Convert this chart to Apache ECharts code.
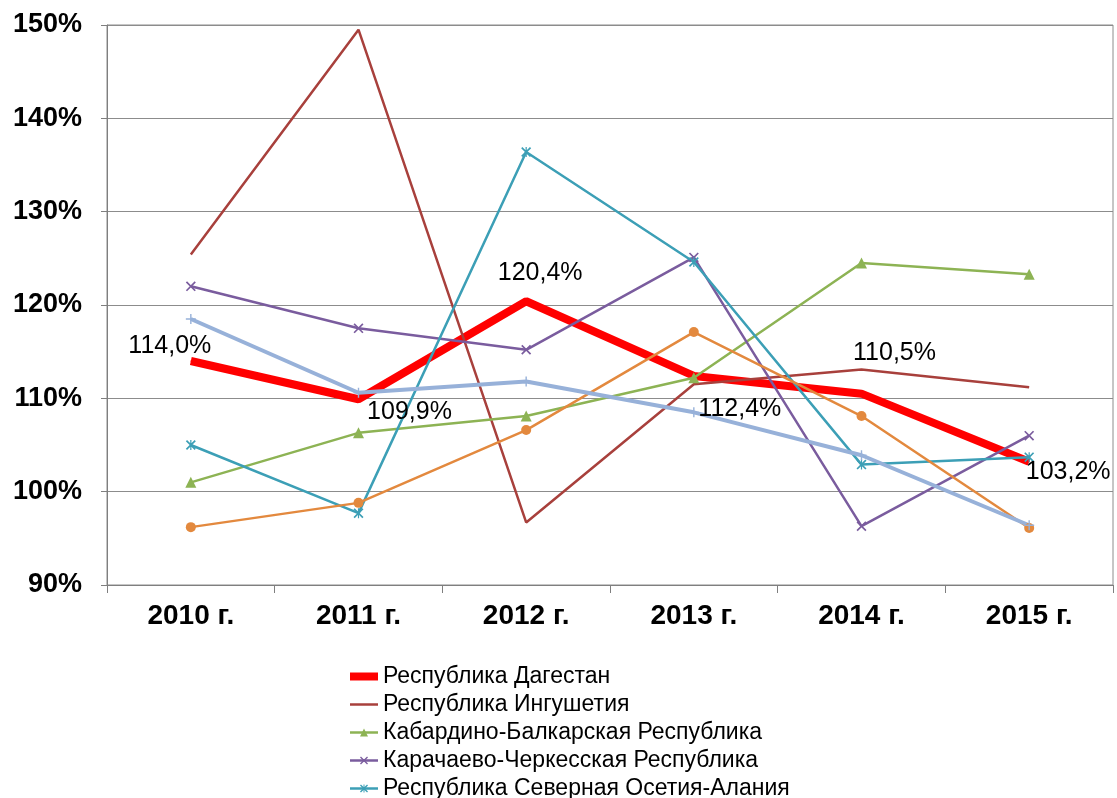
<!DOCTYPE html>
<html>
<head>
<meta charset="utf-8">
<script src="https://cdn.jsdelivr.net/npm/echarts@6/dist/echarts.min.js"></script>
<style>
  html, body { margin: 0; padding: 0; background: #fff; }
  #chart { width: 1117px; height: 798px; }
</style>
</head>
<body>
<div id="chart"></div>
<script>
const years = ['2010 г.', '2011 г.', '2012 г.', '2013 г.', '2014 г.', '2015 г.']
const yTicks = { min: 90, max: 150, step: 10 }

const dagestan = [114.0, 109.9, 120.4, 112.4, 110.5, 103.2]
const ingushetia = [125.4, 149.5, 96.7, 111.5, 113.1, 111.2]
const kbr = [101.0, 106.3, 108.1, 112.2, 124.5, 123.3]
const kchr = [122.0, 117.5, 115.2, 125.1, 96.3, 106.0]
const ossetia = [105.0, 97.7, 136.4, 124.6, 102.9, 103.7]
const chechnya = [96.2, 98.8, 106.6, 117.1, 108.1, 96.1]
const stavropol = [118.5, 110.6, 111.8, 108.5, 103.9, 96.4]

const names = [
  'Республика Дагестан',
  'Республика Ингушетия',
  'Кабардино-Балкарская Республика',
  'Карачаево-Черкесская Республика',
  'Республика Северная Осетия-Алания',
  'Чеченская Республика',
  'Ставропольский край',
]

const font = 'Liberation Sans, Arial, sans-serif'
const fmt = (v) => v.toFixed(1).replace('.', ',') + '%'

// label offsets for the Dagestan values, as placed in the original
const dagOffsets = [[-21, -15], [51, 13], [14, -28], [46, 33], [33, -41], [39, 10]]

const xMark = 'path://M0,1.2L1.2,0L10,8.8L8.8,10Z M8.8,0L10,1.2L1.2,10L0,8.8Z'
const starMark = 'path://M0,1.2L1.2,0L10,8.8L8.8,10Z M8.8,0L10,1.2L1.2,10L0,8.8Z M4.4,0L5.6,0L5.6,10L4.4,10Z'
const plusMark = 'path://M4.3,0L5.7,0L5.7,4.3L10,4.3L10,5.7L5.7,5.7L5.7,10L4.3,10L4.3,5.7L0,5.7L0,4.3L4.3,4.3Z'

const lineWidths = [8, 2.5, 2.5, 2.5, 2.5, 2.5, 4]
const noMarker = [true, true, false, false, false, false, false]

function line(name, data, color, width, symbol, size) {
  return {
    name,
    type: 'line',
    data,
    symbol: symbol || 'none',
    symbolSize: size || 0,
    showSymbol: !!symbol,
    lineStyle: { color, width },
    itemStyle: { color },
    emphasis: { disabled: true },
    animation: false,
  }
}

const chart = echarts.init(document.getElementById('chart'))
chart.setOption({
  backgroundColor: '#fff',
  textStyle: { fontFamily: font },
  grid: {
    left: 107, right: 4, top: 25, bottom: 213,
    show: true, borderColor: '#8c8c8c', borderWidth: 1,
  },
  legend: {
    orient: 'vertical',
    left: 346,
    top: 665,
    height: 400,
    padding: 0,
    itemWidth: 28,
    itemHeight: 10,
    itemGap: 5,
    textStyle: { fontFamily: font, fontSize: 23, color: '#000', lineHeight: 23 },
    data: names.map((n, i) => ({
      name: n,
      lineStyle: { width: lineWidths[i] },
      itemStyle: noMarker[i] ? { opacity: 0 } : {},
    })),
  },
  xAxis: {
    type: 'category',
    data: years,
    boundaryGap: true,
    axisLine: { lineStyle: { color: '#7f7f7f' } },
    axisTick: { show: true, length: 8, lineStyle: { color: '#7f7f7f' } },
    axisLabel: { color: '#000', fontWeight: 'bold', fontSize: 28, fontFamily: font, margin: 17 },
  },
  yAxis: {
    type: 'value',
    min: yTicks.min,
    max: yTicks.max,
    interval: yTicks.step,
    axisLine: { show: true, lineStyle: { color: '#7f7f7f' } },
    axisTick: { show: true, length: 6, lineStyle: { color: '#7f7f7f' } },
    axisLabel: { color: '#000', fontWeight: 'bold', fontSize: 27, fontFamily: font, margin: 25, formatter: '{value}%' },
    splitLine: { lineStyle: { color: '#8c8c8c', width: 1 } },
  },
  series: [
    Object.assign(line(names[0], dagestan.map((v, i) => ({
      value: v,
      label: { show: true, position: 'inside', offset: dagOffsets[i] },
    })), '#ff0000', lineWidths[0], 'circle', 1), {
      label: { show: true, formatter: (p) => fmt(p.value), color: '#000', fontSize: 25, fontFamily: font },
    }),
    line(names[1], ingushetia, '#a8403c', lineWidths[1]),
    line(names[2], kbr, '#8db354', lineWidths[2], 'triangle', 11),
    line(names[3], kchr, '#7a5c9e', lineWidths[3], xMark, 10),
    line(names[4], ossetia, '#3c9fb6', lineWidths[4], starMark, 10),
    line(names[5], chechnya, '#e3893e', lineWidths[5], 'circle', 10),
    line(names[6], stavropol, '#97b1d9', lineWidths[6], plusMark, 10),
  ],
})
window.addEventListener('resize', () => chart.resize())
</script>
</body>
</html>
